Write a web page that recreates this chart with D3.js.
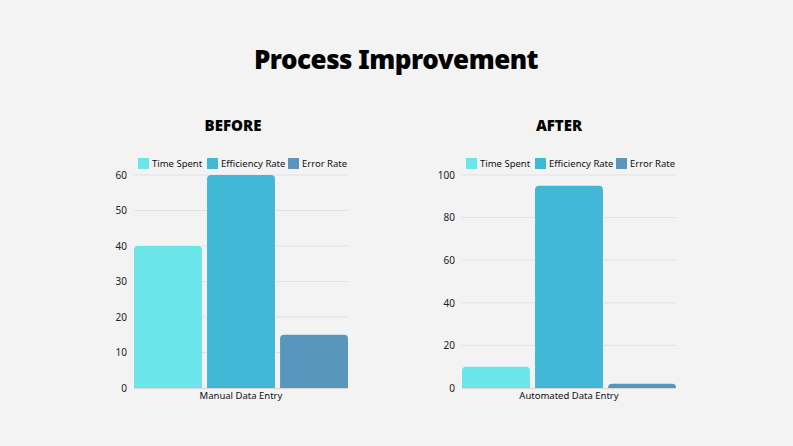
<!DOCTYPE html>
<html>
<head>
<meta charset="utf-8">
<script src="https://cdn.jsdelivr.net/npm/d3@7"></script>
<style>
  body { margin: 0; background: #f3f3f3; }
  svg { display: block; font-family: "Noto Sans", "Open Sans", sans-serif; }
</style>
</head>
<body>
<svg id="chart" width="793" height="446"></svg>
<script>
var seriesNames = ['Time Spent', 'Efficiency Rate', 'Error Rate'];
var seriesColors = ['#6ce5e8', '#41b8d5', '#5896bd'];

var beforeCategory = 'Manual Data Entry';
var beforeValues = [40, 60, 15];
var beforeTicks = [0, 10, 20, 30, 40, 50, 60];

var afterCategory = 'Automated Data Entry';
var afterValues = [10, 95, 2];
var afterTicks = [0, 20, 40, 60, 80, 100];

var svg = d3.select('#chart');

svg.append('rect').attr('width', 793).attr('height', 446).attr('fill', '#f3f3f3');

svg.append('text')
  .attr('x', 396).attr('y', 69)
  .attr('text-anchor', 'middle')
  .attr('font-size', 26).attr('font-weight', 900)
  .attr('fill', '#000')
  .style('letter-spacing', '-0.5px')
  .text('Process Improvement');

// rounded-top bar path
function barPath(x, y, w, h, r) {
  r = Math.min(r, h, w / 2);
  return 'M' + x + ',' + (y + h) +
    'V' + (y + r) +
    'Q' + x + ',' + y + ' ' + (x + r) + ',' + y +
    'H' + (x + w - r) +
    'Q' + (x + w) + ',' + y + ' ' + (x + w) + ',' + (y + r) +
    'V' + (y + h) + 'Z';
}

function drawPanel(opts) {
  var g = svg.append('g');
  var x0 = opts.left, x1 = opts.right;
  var top = 175, bottom = 388;

  g.append('text')
    .attr('x', opts.titleX).attr('y', 131)
    .attr('text-anchor', 'middle')
    .attr('font-size', 15).attr('font-weight', 900)
    .attr('fill', '#000')
    .text(opts.title);

  var y = d3.scaleLinear().domain([0, d3.max(opts.ticks)]).range([bottom, top]);
  var x = d3.scaleBand().domain(seriesNames).range([x0, x1]).paddingInner(0.07);

  // gridlines
  g.selectAll('line.grid')
    .data(opts.ticks.filter(d => d > 0))
    .enter().append('line')
    .attr('x1', x0).attr('x2', x1)
    .attr('y1', d => y(d)).attr('y2', d => y(d))
    .attr('stroke', '#e2e2e2').attr('stroke-width', 1);

  var axis = d3.axisLeft(y).tickValues(opts.ticks).tickSize(0).tickPadding(7);
  var ax = g.append('g').attr('transform', 'translate(' + x0 + ',0)').call(axis);
  ax.select('.domain').remove();
  ax.selectAll('text')
    .attr('font-size', 10).attr('fill', '#222')
    .style('font-family', '"Noto Sans", sans-serif');

  g.selectAll('path.bar')
    .data(opts.values)
    .enter().append('path')
    .attr('class', 'bar')
    .attr('d', (d, i) => barPath(x(seriesNames[i]), y(d), x.bandwidth(), bottom - y(d), 4))
    .attr('fill', (d, i) => seriesColors[i]);

  g.append('line')
    .attr('x1', x0).attr('x2', x1)
    .attr('y1', bottom + 0.5).attr('y2', bottom + 0.5)
    .attr('stroke', '#d8d8d8');

  g.append('text')
    .attr('x', (x0 + x1) / 2).attr('y', 399)
    .attr('text-anchor', 'middle')
    .attr('font-size', 9.5).attr('fill', '#111')
    .text(opts.category);

  // legend
  var leg = g.selectAll('g.leg')
    .data(seriesNames)
    .enter().append('g')
    .attr('transform', (d, i) => 'translate(' + opts.legendX[i] + ',158)');
  leg.append('rect')
    .attr('width', 11).attr('height', 11)
    .attr('fill', (d, i) => seriesColors[i]);
  leg.append('text')
    .attr('x', 14).attr('y', 9)
    .attr('font-size', 9.5).attr('fill', '#111')
    .text(d => d);
}

drawPanel({
  title: 'BEFORE', titleX: 233, category: beforeCategory, values: beforeValues, ticks: beforeTicks,
  left: 134, right: 348, legendX: [138, 207, 288]
});

drawPanel({
  title: 'AFTER', titleX: 559, category: afterCategory, values: afterValues, ticks: afterTicks,
  left: 462, right: 676, legendX: [466, 535, 616]
});
</script>
</body>
</html>
